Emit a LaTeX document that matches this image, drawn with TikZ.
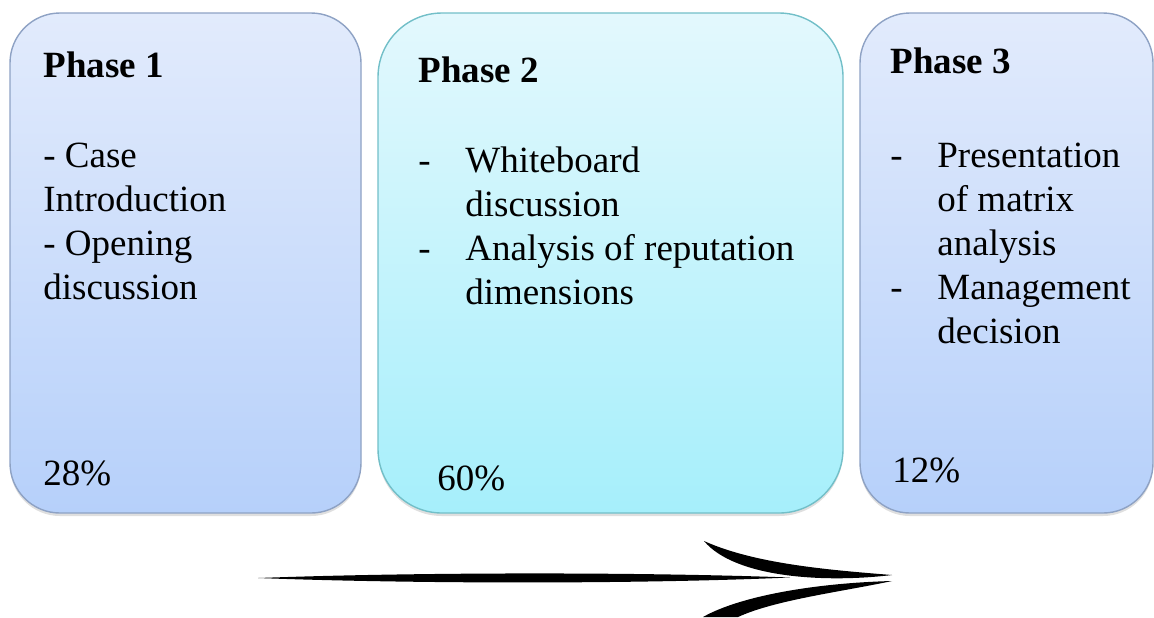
\documentclass[tikz,border=0pt]{standalone}
\usepackage{fontspec}
\setmainfont{Liberation Serif}
\usetikzlibrary{shadows}

\definecolor{blueTop}{HTML}{E2EBFC}
\definecolor{blueBot}{HTML}{B6D0FA}
\definecolor{blueEdge}{HTML}{8EA2C4}
\definecolor{cyanTop}{HTML}{E3F8FD}
\definecolor{cyanBot}{HTML}{A6EFFB}
\definecolor{cyanEdge}{HTML}{72BFC8}

\tikzset{
  phasebox/.style={line width=0.7pt, inner sep=0pt,
    drop shadow={shadow xshift=0pt, shadow yshift=-1.5pt, opacity=0.25}},
  bluebox/.style={phasebox, draw=blueEdge, top color=blueTop, bottom color=blueBot, rounded corners=25pt},
  cyanbox/.style={phasebox, draw=cyanEdge, top color=cyanTop, bottom color=cyanBot, rounded corners=32pt},
  itemtext/.style={anchor=base west, inner sep=0pt, font=\fontsize{18.5}{22}\selectfont},
  headtext/.style={itemtext, font=\fontsize{18.5}{22}\selectfont\bfseries}
}

\begin{document}
\begin{tikzpicture}[x=0.5pt, y=-0.5pt]
  \useasboundingbox (0,0) rectangle (1154,617);

  % Phase boxes
  \node[bluebox, minimum width=175.5pt, minimum height=250pt] (p1box) at (185.5,263) {};
  \node[cyanbox, minimum width=232.5pt, minimum height=250pt] (p2box) at (610.5,263) {};
  \node[bluebox, minimum width=146.5pt, minimum height=250pt] (p3box) at (1006.5,263) {};

  % Phase 1
  \node[headtext] (p1title) at (43,77) {Phase 1};
  \node[itemtext] (p1case) at (43,167) {- Case};
  \node[itemtext] (p1intro) at (43,211) {Introduction};
  \node[itemtext] (p1open) at (43,255) {- Opening};
  \node[itemtext] (p1disc) at (43,299) {discussion};
  \node[itemtext] (p1share) at (43,485) {28\%};

  % Phase 2
  \node[headtext] (p2title) at (418,82) {Phase 2};
  \node[itemtext] (p2dashA) at (418,172) {-};
  \node[itemtext] (p2white) at (465,172) {Whiteboard};
  \node[itemtext] (p2disc) at (465,216) {discussion};
  \node[itemtext] (p2dashB) at (418,260) {-};
  \node[itemtext] (p2anal) at (465,260) {Analysis of reputation};
  \node[itemtext] (p2dims) at (465,304) {dimensions};
  \node[itemtext] (p2share) at (437,490) {60\%};

  % Phase 3
  \node[headtext] (p3title) at (890,73) {Phase 3};
  \node[itemtext] (p3dashA) at (890,167) {-};
  \node[itemtext] (p3pres) at (937,167) {Presentation};
  \node[itemtext] (p3matrix) at (937,211) {of matrix};
  \node[itemtext] (p3anal) at (937,255) {analysis};
  \node[itemtext] (p3dashB) at (890,299) {-};
  \node[itemtext] (p3mgmt) at (937,299) {Management};
  \node[itemtext] (p3dec) at (937,343) {decision};
  \node[itemtext] (p3share) at (892,482) {12\%};

  % Brush-stroke arrow: tapered shaft and two curved barbs
  \fill (258,578) .. controls (420,572) and (640,572) .. (790,577.5)
    .. controls (640,584) and (420,584) .. (258,578) -- cycle;
  \fill (704,541) .. controls (755,564) and (830,570) .. (892,575)
    .. controls (825,583) and (735,578) .. (704,541) -- cycle;
  \fill (892,581) .. controls (815,583) and (740,596) .. (703,617)
    -- (738,617) .. controls (775,600) and (840,592) .. (892,581) -- cycle;
\end{tikzpicture}
\end{document}
